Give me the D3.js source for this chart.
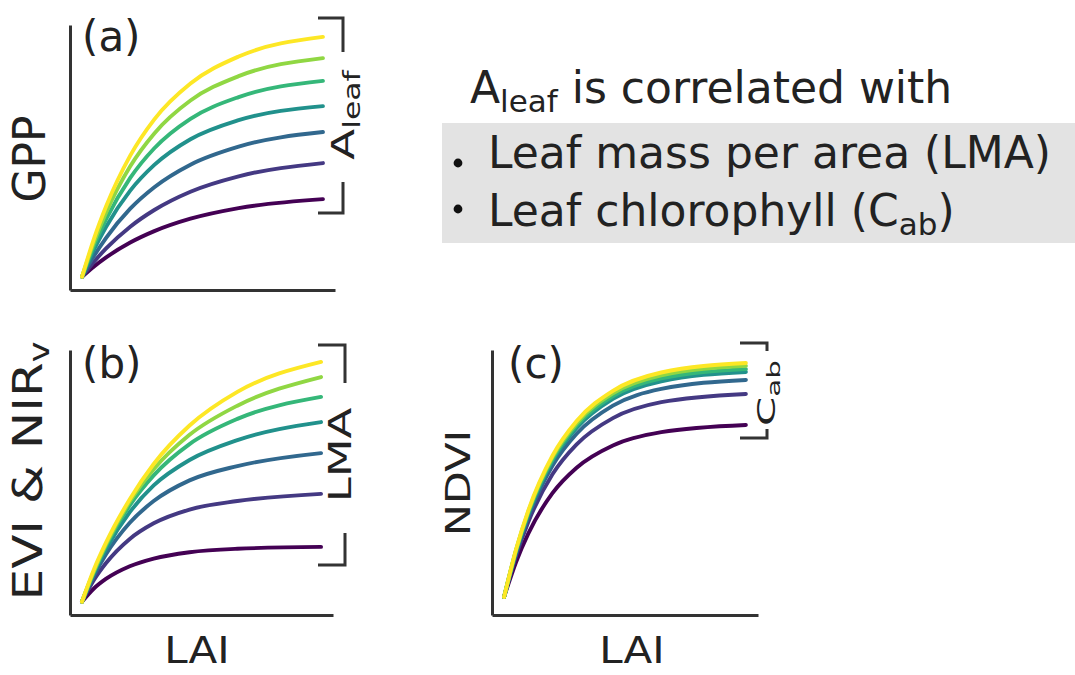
<!DOCTYPE html>
<html>
<head>
<meta charset="utf-8">
<script src="https://cdn.jsdelivr.net/npm/d3@7"></script>
<style>
  body { margin: 0; background: #fff; }
  svg { display: block; font-family: "DejaVu Sans", sans-serif; }
</style>
</head>
<body>
<svg id="chart" width="1075" height="675"></svg>
<script>
const lai = [0.5, 1, 1.5, 2.5, 3.5, 5, 7, 10.5];

// viridis, low -> high
const colors = ["#440154", "#443983", "#31688e", "#21918c", "#35b779", "#90d743", "#fde725"];

// (a) GPP vs LAI, one row per A_leaf level (low -> high)
const gpp = [
  [0.05, 0.089, 0.123, 0.179, 0.222, 0.269, 0.309, 0.343],
  [0.05, 0.107, 0.157, 0.239, 0.302, 0.371, 0.429, 0.479],
  [0.05, 0.129, 0.197, 0.307, 0.388, 0.473, 0.541, 0.596],
  [0.05, 0.153, 0.239, 0.375, 0.472, 0.569, 0.641, 0.694],
  [0.05, 0.168, 0.267, 0.423, 0.535, 0.646, 0.728, 0.789],
  [0.05, 0.182, 0.293, 0.467, 0.591, 0.715, 0.807, 0.875],
  [0.05, 0.195, 0.316, 0.507, 0.644, 0.779, 0.881, 0.955]
];

// (b) EVI & NIRv vs LAI, one row per LMA level
const evi = [
  [0.05, 0.100, 0.136, 0.184, 0.213, 0.237, 0.250, 0.257],
  [0.05, 0.132, 0.195, 0.287, 0.346, 0.398, 0.430, 0.457],
  [0.05, 0.148, 0.228, 0.348, 0.430, 0.508, 0.562, 0.611],
  [0.05, 0.158, 0.247, 0.388, 0.489, 0.585, 0.660, 0.728],
  [0.05, 0.163, 0.260, 0.414, 0.527, 0.645, 0.740, 0.823],
  [0.05, 0.165, 0.265, 0.428, 0.550, 0.680, 0.790, 0.898],
  [0.05, 0.172, 0.272, 0.437, 0.570, 0.715, 0.842, 0.955]
];

// (c) NDVI vs LAI, one row per Cab level
const ndvi = [
  [0.068, 0.201, 0.307, 0.460, 0.556, 0.640, 0.690, 0.717],
  [0.068, 0.225, 0.351, 0.531, 0.644, 0.743, 0.803, 0.834],
  [0.068, 0.236, 0.370, 0.563, 0.684, 0.790, 0.853, 0.887],
  [0.068, 0.242, 0.381, 0.581, 0.706, 0.816, 0.882, 0.917],
  [0.068, 0.244, 0.385, 0.587, 0.715, 0.826, 0.893, 0.928],
  [0.068, 0.247, 0.390, 0.595, 0.724, 0.836, 0.904, 0.940],
  [0.068, 0.249, 0.394, 0.601, 0.732, 0.846, 0.915, 0.951]
];

const svg = d3.select("#chart");
const axisColor = "#333";

function panel(series, box) {
  const x = d3.scaleLinear().domain([0, 11]).range([box.x0, box.x1]);
  const y = d3.scaleLinear().domain([0, 1]).range([box.y0, box.y1]);
  const g = svg.append("g");

  // axes: only the spines, no ticks
  g.append("g")
    .attr("transform", `translate(${box.x0},0)`)
    .call(d3.axisLeft(y).ticks(0).tickSizeOuter(0));
  g.append("g")
    .attr("transform", `translate(0,${box.y0})`)
    .call(d3.axisBottom(x).ticks(0).tickSizeOuter(0));
  g.selectAll(".domain")
    .attr("stroke", axisColor)
    .attr("stroke-width", 3);

  const line = d3.line()
    .curve(d3.curveMonotoneX)
    .x((d, i) => x(lai[i]))
    .y(d => y(d));

  g.append("g")
    .selectAll("path")
    .data(series)
    .enter()
    .append("path")
    .attr("d", d => line(d))
    .attr("fill", "none")
    .attr("stroke", (d, i) => colors[i])
    .attr("stroke-width", 3.9)
    .attr("stroke-linecap", "round");
  return g;
}

panel(gpp,  { x0: 70,  x1: 335, y0: 290, y1: 25 });
panel(evi,  { x0: 70,  x1: 333, y0: 615, y1: 350 });
panel(ndvi, { x0: 492, x1: 758, y0: 615, y1: 350 });

// panel letters
const letters = [["(a)", 82, 51], ["(b)", 82, 378], ["(c)", 508, 378]];
svg.selectAll(".letter")
  .data(letters)
  .enter()
  .append("text")
  .attr("x", d => d[1])
  .attr("y", d => d[2])
  .attr("font-size", 42)
  .attr("fill", "#222")
  .text(d => d[0]);

// rotated text helper (reads bottom to top)
function vtext(cx, cy, size, squash, parts) {
  const t = svg.append("text")
    .attr("transform", `translate(${cx},${cy}) rotate(-90) scale(1,${squash})`)
    .attr("text-anchor", "middle")
    .attr("font-size", size)
    .attr("fill", "#222");
  parts.forEach(p => {
    const s = t.append("tspan").text(p.t);
    if (p.sub) s.attr("font-size", size * 0.7).attr("dy", size * 0.18);
  });
  return t;
}

// y labels
vtext(45, 159, 44, 1, [{ t: "GPP" }]);
vtext(42, 471, 50, 0.8, [{ t: "EVI & NIR" }, { t: "v", sub: true }]);
vtext(470, 483, 43, 0.8, [{ t: "NDVI" }]);

// x labels
[[197, 663], [632, 663]].forEach(p => {
  svg.append("text")
    .attr("transform", `translate(${p[0]},${p[1]}) scale(1,0.9)`)
    .attr("text-anchor", "middle")
    .attr("font-size", 42)
    .attr("fill", "#222")
    .text("LAI");
});

// brackets on the right of each panel
const bracket = d3.line();
const brackets = [
  [[318, 18], [343, 18], [343, 52]],
  [[343, 182], [343, 213], [318, 213]],
  [[318, 345], [345, 345], [345, 383]],
  [[345, 533], [345, 565], [318, 565]],
  [[740, 343], [767, 343], [767, 351]],
  [[740, 438], [767, 438], [767, 429]]
];
svg.append("g")
  .selectAll("path")
  .data(brackets)
  .enter()
  .append("path")
  .attr("d", d => bracket(d))
  .attr("fill", "none")
  .attr("stroke", axisColor)
  .attr("stroke-width", 3);

vtext(354, 115, 45, 0.72, [{ t: "A" }, { t: "leaf", sub: true }]);
vtext(351, 455, 45, 0.72, [{ t: "LMA" }]);
vtext(775, 393, 42, 0.6, [{ t: "C" }, { t: "ab", sub: true }]);

// note box
svg.append("rect")
  .attr("x", 442).attr("y", 123)
  .attr("width", 633).attr("height", 120)
  .attr("fill", "#e3e3e3");

const note = svg.append("g").attr("font-size", 44).attr("fill", "#222");
const head = note.append("text").attr("x", 470).attr("y", 103);
head.append("tspan").text("A");
head.append("tspan").text("leaf").attr("font-size", 31).attr("dy", 9);
head.append("tspan").text(" is correlated with").attr("dy", -9);

note.append("text").attr("x", 488).attr("y", 168).text("Leaf mass per area (LMA)");
const l3 = note.append("text").attr("x", 488).attr("y", 226);
l3.append("tspan").text("Leaf chlorophyll (C");
l3.append("tspan").text("ab").attr("font-size", 31).attr("dy", 9);
l3.append("tspan").text(")").attr("dy", -9);

note.selectAll("circle")
  .data([[458, 163], [458, 209]])
  .enter()
  .append("circle")
  .attr("cx", d => d[0])
  .attr("cy", d => d[1])
  .attr("r", 4.4)
  .attr("fill", "#111");
</script>
</body>
</html>
